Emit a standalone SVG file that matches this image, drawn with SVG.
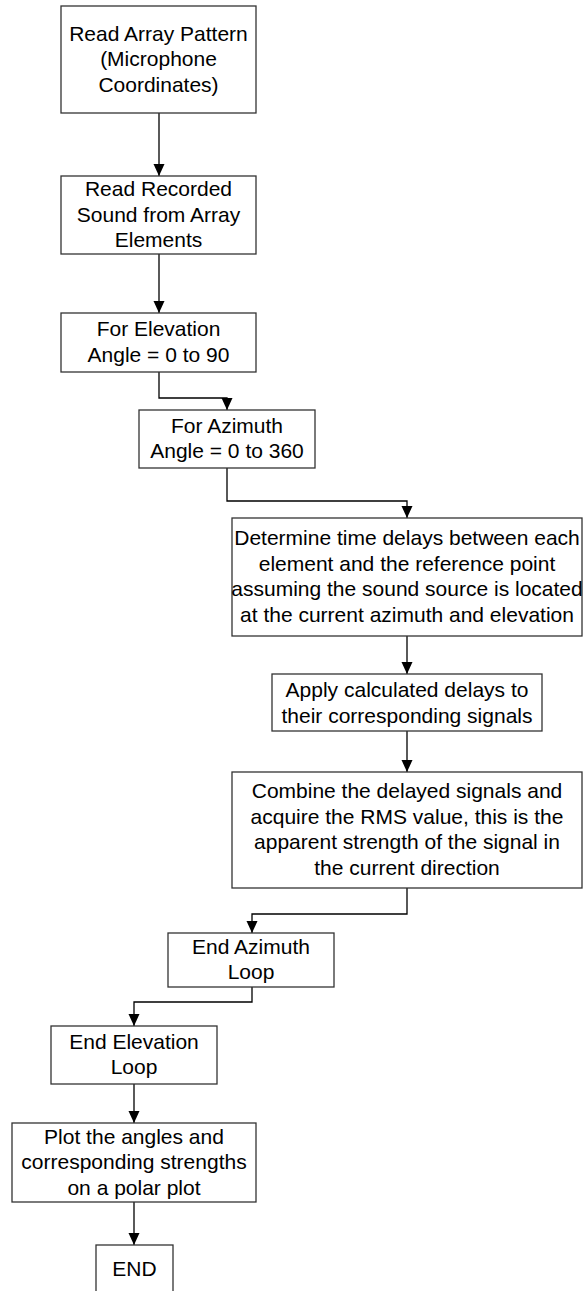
<svg xmlns="http://www.w3.org/2000/svg" width="587" height="1291" viewBox="0 0 587 1291">
  <style>
    .box { fill: #ffffff; stroke: #333333; stroke-width: 1.3; }
    .lbl { font-family: "Liberation Sans", Arial, sans-serif; font-size: 21px; fill: #000000; text-anchor: middle; }
    .wire { fill: none; stroke: #000000; stroke-width: 1.3; }
  </style>
  <defs>
    <marker id="arrow" markerUnits="userSpaceOnUse" markerWidth="12" markerHeight="14" refX="12" refY="5.5" orient="auto">
      <path d="M0,0 L12,5.5 L0,11 Z" fill="#000000"/>
    </marker>
  </defs>
  <rect width="587" height="1291" fill="#ffffff"/>

  <g id="connectors">
    <path class="wire" d="M159,113 V176" marker-end="url(#arrow)"/>
    <path class="wire" d="M159,254 V313" marker-end="url(#arrow)"/>
    <path class="wire" d="M159,372 V398 H227 V410" marker-end="url(#arrow)"/>
    <path class="wire" d="M227,468 V501 H407 V518" marker-end="url(#arrow)"/>
    <path class="wire" d="M407,636 V674" marker-end="url(#arrow)"/>
    <path class="wire" d="M407,731 V772" marker-end="url(#arrow)"/>
    <path class="wire" d="M407,888 V914 H252 V933" marker-end="url(#arrow)"/>
    <path class="wire" d="M252,987 V1002 H134 V1026" marker-end="url(#arrow)"/>
    <path class="wire" d="M134,1084 V1123" marker-end="url(#arrow)"/>
    <path class="wire" d="M134,1202 V1245" marker-end="url(#arrow)"/>
  </g>

  <g id="read-array">
    <rect class="box" x="61" y="6" width="195" height="107"/>
    <text class="lbl" x="158.5" y="40.5">Read Array Pattern</text>
    <text class="lbl" x="158.5" y="66">(Microphone</text>
    <text class="lbl" x="158.5" y="91.5">Coordinates)</text>
  </g>

  <g id="read-sound">
    <rect class="box" x="61" y="176" width="195" height="78"/>
    <text class="lbl" x="158.5" y="196">Read Recorded</text>
    <text class="lbl" x="158.5" y="221.5">Sound from Array</text>
    <text class="lbl" x="158.5" y="247">Elements</text>
  </g>

  <g id="for-elevation">
    <rect class="box" x="61" y="313" width="195" height="59"/>
    <text class="lbl" x="158.5" y="336">For Elevation</text>
    <text class="lbl" x="158.5" y="361.5">Angle = 0 to 90</text>
  </g>

  <g id="for-azimuth">
    <rect class="box" x="139" y="410" width="176" height="58"/>
    <text class="lbl" x="227" y="432.5">For Azimuth</text>
    <text class="lbl" x="227" y="458">Angle = 0 to 360</text>
  </g>

  <g id="time-delays">
    <rect class="box" x="232" y="518" width="350" height="118"/>
    <text class="lbl" x="407" y="545">Determine time delays between each</text>
    <text class="lbl" x="407" y="570.5">element and the reference point</text>
    <text class="lbl" x="407" y="596">assuming the sound source is located</text>
    <text class="lbl" x="407" y="621.5">at the current azimuth and elevation</text>
  </g>

  <g id="apply-delays">
    <rect class="box" x="272" y="674" width="270" height="57"/>
    <text class="lbl" x="407" y="697">Apply calculated delays to</text>
    <text class="lbl" x="407" y="722.5">their corresponding signals</text>
  </g>

  <g id="combine">
    <rect class="box" x="232" y="772" width="350" height="116"/>
    <text class="lbl" x="407" y="798">Combine the delayed signals and</text>
    <text class="lbl" x="407" y="823.5">acquire the RMS value, this is the</text>
    <text class="lbl" x="407" y="849">apparent strength of the signal in</text>
    <text class="lbl" x="407" y="874.5">the current direction</text>
  </g>

  <g id="end-azimuth">
    <rect class="box" x="168" y="933" width="166" height="54"/>
    <text class="lbl" x="251" y="953.5">End Azimuth</text>
    <text class="lbl" x="251" y="979">Loop</text>
  </g>

  <g id="end-elevation">
    <rect class="box" x="51" y="1026" width="166" height="58"/>
    <text class="lbl" x="134" y="1048.5">End Elevation</text>
    <text class="lbl" x="134" y="1074">Loop</text>
  </g>

  <g id="polar-plot">
    <rect class="box" x="12" y="1123" width="244" height="79"/>
    <text class="lbl" x="134" y="1143.5">Plot the angles and</text>
    <text class="lbl" x="134" y="1169">corresponding strengths</text>
    <text class="lbl" x="134" y="1194.5">on a polar plot</text>
  </g>

  <g id="end">
    <rect class="box" x="96" y="1245" width="77" height="60"/>
    <text class="lbl" x="134.5" y="1276">END</text>
  </g>
</svg>
